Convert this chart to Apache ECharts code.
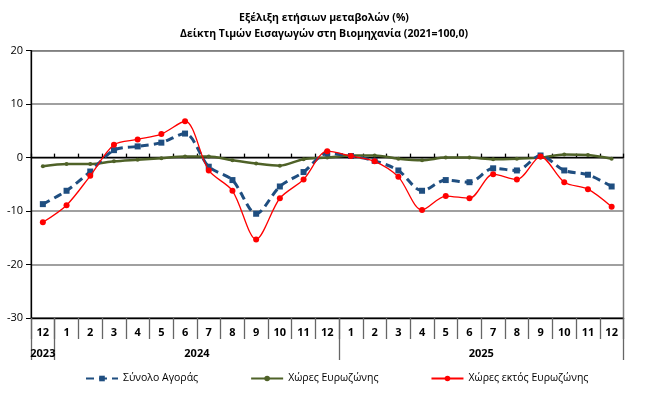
<!DOCTYPE html>
<html>
<head>
<meta charset="utf-8">
<script src="https://cdn.jsdelivr.net/npm/echarts@6/dist/echarts.min.js"></script>
<style>
  html, body { margin: 0; padding: 0; background: #fff; }
  #chart { width: 648px; height: 406px; }
</style>
</head>
<body>
<div id="chart"></div>
<script>
// months 12/2023 .. 12/2025
const months = ['12', '1', '2', '3', '4', '5', '6', '7', '8', '9', '10', '11', '12',
  '1', '2', '3', '4', '5', '6', '7', '8', '9', '10', '11', '12'];
const years = ['2023', '2024', '2025'];
const yearCenters = [0.5, 7, 19];
const yearBounds = [0, 1, 13, 25];

const totalMarket = [-8.7, -6.2, -2.6, 1.4, 2.1, 2.8, 4.5, -1.7, -4.2, -10.5, -5.4, -2.7, 0.8,
  0.3, -0.6, -2.4, -6.2, -4.2, -4.6, -2.0, -2.4, 0.4, -2.4, -3.2, -5.4];
const euroArea = [-1.6, -1.2, -1.2, -0.7, -0.4, -0.1, 0.2, 0.2, -0.5, -1.1, -1.5, -0.3, 0.0,
  0.4, 0.4, -0.2, -0.5, 0.0, 0.0, -0.3, -0.2, 0.0, 0.6, 0.5, -0.2];
const nonEuroArea = [-12.1, -8.9, -3.4, 2.4, 3.4, 4.4, 6.8, -2.4, -6.2, -15.3, -7.6, -4.1, 1.2,
  0.3, -0.7, -3.6, -9.8, -7.2, -7.6, -3.1, -4.1, 0.2, -4.6, -5.9, -9.2];

const font = 'Open Sans';

const chart = echarts.init(document.getElementById('chart'));

chart.setOption({
  animation: false,
  textStyle: { fontFamily: font },
  title: {
    text: 'Εξέλιξη ετήσιων μεταβολών (%)\nΔείκτη Τιμών Εισαγωγών στη Βιομηχανία (2021=100,0)',
    left: 'center',
    top: 5,
    textStyle: { fontSize: 10.5, fontWeight: 'bold', color: '#000', lineHeight: 16, fontFamily: font },
  },
  grid: {
    left: 31,
    right: 24.5,
    top: 50.7,
    bottom: 88,
    show: true,
    borderColor: '#808080',
    borderWidth: 1.5,
  },
  legend: {
    bottom: 17,
    left: 80,
    itemGap: 52,
    itemWidth: 32,
    itemHeight: 7,
    textStyle: { fontSize: 10.5, color: '#000', fontFamily: font },
    data: ['Σύνολο Αγοράς', 'Χώρες Ευρωζώνης', 'Χώρες εκτός Ευρωζώνης'],
  },
  xAxis: [
    {
      // bottom month labels with separators
      type: 'category',
      data: months,
      position: 'bottom',
      boundaryGap: true,
      axisLine: { onZero: false, lineStyle: { color: '#000', width: 1.3 } },
      axisTick: { show: true, interval: 0, length: 21, lineStyle: { color: '#666', width: 1.3 } },
      axisLabel: { interval: 0, margin: 9, fontSize: 11, fontWeight: 'bold', color: '#000', fontFamily: font },
      splitLine: { show: false },
    },
    {
      // zero line with small upward ticks
      type: 'category',
      data: months,
      position: 'bottom',
      boundaryGap: true,
      axisLine: { onZero: true, lineStyle: { color: '#000', width: 1.3 } },
      axisTick: { show: true, inside: true, interval: 0, length: 4, lineStyle: { color: '#000', width: 1.3 } },
      axisLabel: { show: false },
      splitLine: { show: false },
    },
    {
      // year row
      type: 'value',
      min: 0,
      max: 25,
      position: 'bottom',
      axisLine: { show: false, onZero: false },
      axisTick: {
        show: true,
        length: 42,
        customValues: yearBounds,
        lineStyle: { color: '#666', width: 1.3 },
      },
      axisLabel: {
        customValues: yearCenters,
        margin: 30,
        fontSize: 11,
        fontWeight: 'bold',
        color: '#000',
        fontFamily: font,
        formatter: (v) => years[yearCenters.indexOf(v)] || '',
      },
      splitLine: { show: false },
    },
  ],
  yAxis: {
    type: 'value',
    min: -30,
    max: 20,
    interval: 10,
    axisLine: { show: true, onZero: false, lineStyle: { color: '#000', width: 1.3 } },
    axisTick: { show: true, length: 5, inside: false, lineStyle: { color: '#000' } },
    axisLabel: { fontSize: 11, color: '#000', margin: 8, fontFamily: font },
    splitLine: { show: true, lineStyle: { color: '#808080', width: 1.5 } },
  },
  series: [
    {
      name: 'Σύνολο Αγοράς',
      type: 'line',
      data: totalMarket,
      smooth: 0.3,
      symbol: 'rect',
      symbolSize: 6,
      lineStyle: { color: '#1F4E80', width: 3, type: [8, 5] },
      itemStyle: { color: '#1F4E80' },
      z: 3,
    },
    {
      name: 'Χώρες Ευρωζώνης',
      type: 'line',
      data: euroArea,
      smooth: 0.3,
      symbol: 'circle',
      symbolSize: 4,
      lineStyle: { color: '#4F6228', width: 2.5 },
      itemStyle: { color: '#4F6228' },
      z: 2,
    },
    {
      name: 'Χώρες εκτός Ευρωζώνης',
      type: 'line',
      data: nonEuroArea,
      smooth: 0.3,
      symbol: 'circle',
      symbolSize: 6,
      lineStyle: { color: '#FF0000', width: 1.3 },
      itemStyle: { color: '#FF0000' },
      z: 4,
    },
  ],
});
</script>
</body>
</html>
